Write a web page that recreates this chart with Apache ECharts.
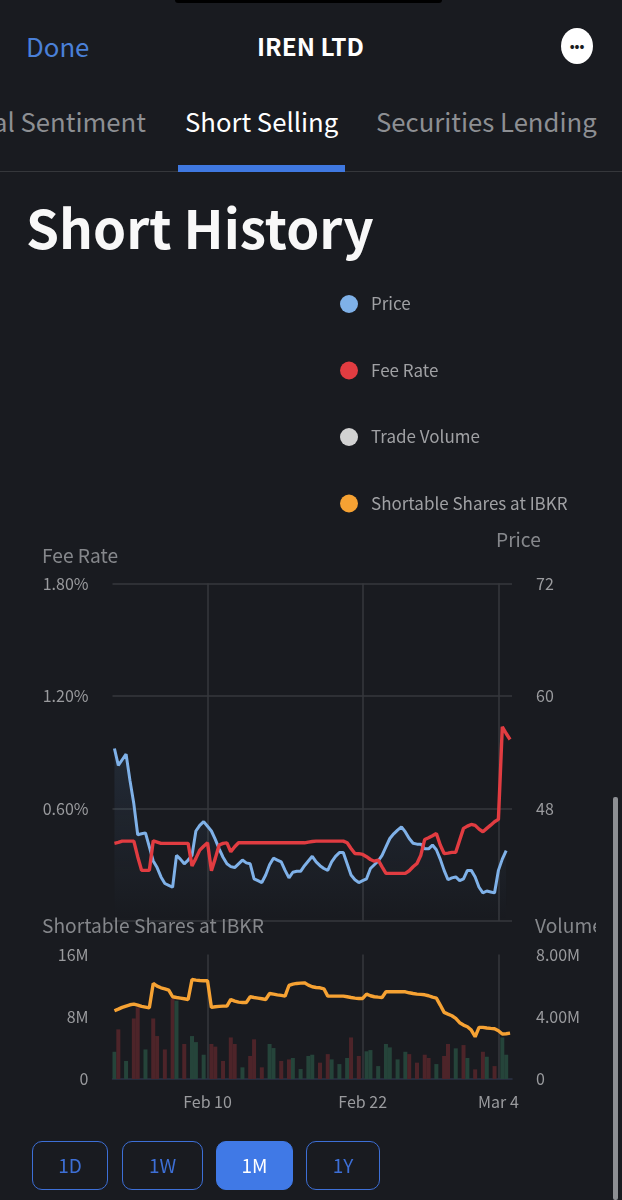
<!DOCTYPE html>
<html>
<head>
<meta charset="utf-8">
<script src="https://cdn.jsdelivr.net/npm/echarts@6/dist/echarts.min.js"></script>
<style>
  html, body { margin: 0; padding: 0; background: #191b20; }
  body { width: 622px; height: 1200px; position: relative; overflow: hidden; font-family: "Noto Sans CJK JP", "Noto Sans", sans-serif; }
  .txt { position: absolute; white-space: nowrap; line-height: 1; }
  #chart { position: absolute; left: 0; top: 0; width: 596px; height: 1200px; }
  .btn { position: absolute; top: 1141px; height: 49px; box-sizing: border-box; border: 1.7px solid #3d6fd6; border-radius: 10px; color: #3d6fd6; font-size: 19px; line-height: 45px; text-align: center; }
  .btn.on { background: #4079e6; border-color: #4079e6; color: #fff; }
</style>
</head>
<body>
<div class="txt" style="left:175px;top:0;width:267px;height:3px;background:#000;border-radius:0 0 6px 6px"></div>
<div class="txt" style="left:26px;top:33px;font-size:25.8px;color:#4a80d8">Done</div>
<div class="txt" style="left:257px;top:34px;font-size:24.4px;font-weight:700;color:#fff">IREN LTD</div>
<div class="txt" style="left:561px;top:28px;width:32px;height:36px;border-radius:50%;background:#fff;color:#191b20;font-size:13px;font-weight:700;line-height:36px;text-align:center">•••</div>
<div class="txt" style="left:-7px;top:108px;font-size:25.7px;color:#8d8f93">al Sentiment</div>
<div class="txt" style="left:185px;top:108px;font-size:25.7px;color:#fff">Short Selling</div>
<div class="txt" style="left:376px;top:108px;font-size:25.7px;color:#8d8f93">Securities Lending</div>
<div class="txt" style="left:0;top:171px;width:622px;height:1px;background:#35373b"></div>
<div class="txt" style="left:178px;top:165px;width:167px;height:7px;background:#3f78e0"></div>
<div class="txt" style="left:26px;top:200px;font-size:53px;font-weight:700;color:#f8f8f8">Short History</div>

<div id="chart"></div>

<div class="txt" style="left:613px;top:797px;width:4.5px;height:403px;border-radius:2px;background:#8d8f93"></div>
<div class="btn" style="left:32px;width:76px">1D</div>
<div class="btn" style="left:122px;width:81px">1W</div>
<div class="btn on" style="left:216px;width:77px">1M</div>
<div class="btn" style="left:306px;width:74px">1Y</div>

<script>
// values, one per trading slot
var price = [54.4,52.6,53.2,53.8,51.0,48.5,45.2,45.3,45.4,43.9,42.4,41.7,40.7,40.0,39.8,39.6,43.0,42.6,42.1,42.5,
  43.0,45.6,46.2,46.6,46.1,45.6,44.7,43.7,42.8,42.1,41.8,41.7,42.1,42.5,42.2,42.1,40.5,40.3,40.1,40.9,
  42.0,42.7,42.5,42.3,41.4,40.6,41.2,41.3,41.3,41.9,42.4,42.9,42.3,41.9,41.6,41.4,42.3,42.9,43.3,43.3,
  42.1,40.9,40.4,40.1,40.3,40.5,41.6,42.0,42.4,43.0,43.9,44.8,45.3,45.7,46.05,45.5,44.8,44.3,44.2,44.2,
  43.7,43.7,44.1,43.6,42.6,41.4,40.4,40.6,40.7,40.3,40.5,41.4,41.4,40.7,39.6,39.0,39.2,39.1,39.0,41.4,
  42.6,43.5,null];

var feeRate = [.414,.419,.426,.426,.426,.426,.343,.27,.27,.27,.428,.421,.414,.414,.414,.414,.414,.414,.414,.414,
  .293,.334,.378,.399,.417,.268,.334,.405,.414,.417,.369,.396,.417,.417,.417,.417,.417,.417,.417,.417,
  .417,.417,.417,.417,.417,.417,.417,.417,.417,.417,.421,.424,.426,.426,.426,.426,.426,.426,.426,.426,
  .417,.387,.36,.359,.355,.343,.328,.319,.325,.289,.254,.254,.254,.254,.254,.254,.268,.289,.307,.351,
  .435,.444,.455,.467,.405,.36,.362,.366,.367,.431,.494,.506,.515,.51,.49,.476,.494,.511,.529,.542,
  1.036,1.0,.968];

// millions
var shortable = [8.77,8.98,9.20,9.37,9.54,9.63,9.50,9.33,9.24,9.15,12.28,11.94,11.72,11.59,11.42,10.57,10.48,10.40,10.31,10.22,
  12.79,12.71,12.66,12.62,12.62,9.20,9.28,9.33,9.37,9.37,10.22,10.01,9.88,9.84,9.84,10.57,10.48,10.40,10.31,10.22,
  10.99,10.91,10.82,10.74,10.65,12.02,12.19,12.28,12.32,12.36,12.06,11.85,11.76,11.72,11.59,10.65,10.65,10.65,10.65,10.65,
  10.57,10.48,10.40,10.35,10.35,10.91,10.70,10.57,10.52,10.48,11.21,11.21,11.21,11.21,11.21,11.21,11.08,10.99,10.91,10.87,
  10.82,10.70,10.52,10.40,9.50,8.56,8.34,8.13,7.79,7.23,6.93,6.72,6.29,5.43,6.63,6.63,6.55,6.50,6.46,6.20,
  5.78,5.82,5.90];

// millions, null where no bar is drawn
var volume = [1.75,3.19,null,1.16,null,3.89,4.6,null,1.9,null,3.89,2.76,null,1.9,null,5.18,5.03,null,2.25,null,
  2.76,2.37,null,1.56,null,2.25,2.08,null,1.16,null,2.67,2.25,null,.75,null,1.48,2.55,null,.75,null,
  2.25,1.99,null,1.16,null,1.26,1.35,null,.64,null,1.48,1.56,null,1.05,null,1.6,1.26,null,.96,null,
  1.35,2.67,null,1.48,null,1.78,1.86,null,.83,null,2.25,2.03,null,1.26,null,1.75,1.6,null,1.05,null,
  1.56,1.35,null,.96,null,1.48,2.25,null,1.97,null,2.18,1.35,null,.62,null,1.75,1.43,null,.83,null,
  2.67,1.56,null];

// which slots have a red bar, the others are green
var redBars = [1,5,6,10,11,13,15,18,25,26,28,30,31,35,36,38,43,45,53,55,61,63,76,78,80,81,85,86,90,93,95,98];

var tickIndex = [24, 64, 99];
var tickText = ['Feb 10', 'Feb 22', 'Mar 4'];

var categories = price.map(function (v, i) { return 'slot' + i; });

var fontName = '"Noto Sans CJK JP", "Noto Sans", sans-serif';
var labelColor = '#9a9b9e';
var gridColor = '#36383c';

var isTick = function (i) { return tickIndex.indexOf(i) >= 0; };

function xAxisFor(gridIndex, showLabel) {
    return {
        type: 'category',
        gridIndex: gridIndex,
        data: categories,
        boundaryGap: true,
        axisLine: { show: showLabel, lineStyle: { color: '#2b3345', width: 1.5 } },
        axisTick: { show: false },
        axisLabel: {
            show: showLabel,
            interval: function (i) { return isTick(i); },
            formatter: function (v, i) { return tickText[tickIndex.indexOf(i)]; },
            color: labelColor,
            fontSize: 16,
            fontFamily: fontName,
            margin: 15
        },
        splitLine: {
            show: true,
            alignWithLabel: true,
            interval: function (i) { return isTick(i); },
            lineStyle: { color: gridColor, width: 1.5 }
        }
    };
}

function yAxisFor(gridIndex, position, min, max, interval, showSplit, fmt) {
    return {
        type: 'value',
        gridIndex: gridIndex,
        position: position,
        min: min,
        max: max,
        interval: interval,
        axisLine: { show: false },
        axisTick: { show: false },
        axisLabel: {
            color: labelColor,
            fontSize: 16,
            fontFamily: fontName,
            margin: 24,
            formatter: fmt
        },
        splitLine: { show: showSplit, lineStyle: { color: gridColor, width: 1.5 } }
    };
}

function axisTitle(text, left, top) {
    return { text: text, left: left, top: top, textStyle: { color: '#85878b', fontSize: 19.2, fontWeight: 'normal', fontFamily: fontName, lineHeight: 20 }, padding: 0 };
}

var myChart = echarts.init(document.getElementById('chart'));

myChart.setOption({
    animation: false,
    backgroundColor: 'transparent',
    title: [
        axisTitle('Fee Rate', 42, 546),
        axisTitle('Price', 496, 530),
        axisTitle('Shortable Shares at IBKR', 42, 916),
        axisTitle('Volume', 535, 916)
    ],
    legend: {
        orient: 'vertical',
        left: 335,
        top: 290,
        icon: 'circle',
        itemWidth: 18,
        itemHeight: 18,
        itemGap: 48.5,
        selectedMode: false,
        textStyle: { color: '#a0a1a4', fontSize: 17, fontFamily: fontName, padding: [0, 0, 0, 8] },
        data: ['Price', 'Fee Rate', 'Trade Volume', 'Shortable Shares at IBKR']
    },
    grid: [
        { left: 112.5, top: 583.5, width: 399.5, height: 337.5 },
        { left: 112.5, top: 954.5, width: 399.5, height: 124.5 }
    ],
    xAxis: [xAxisFor(0, false), xAxisFor(1, true)],
    yAxis: [
        yAxisFor(0, 'left', 0, 1.8, 0.6, true, function (v) { return v === 0 ? '' : v.toFixed(2) + '%'; }),
        yAxisFor(0, 'right', 36, 72, 12, false, function (v) { return v === 36 ? '' : String(v); }),
        yAxisFor(1, 'left', 0, 16, 8, false, function (v) { return v === 0 ? '0' : v + 'M'; }),
        yAxisFor(1, 'right', 0, 8, 4, false, function (v) { return v === 0 ? '0' : v.toFixed(2) + 'M'; })
    ],
    series: [
        {
            name: 'Price',
            type: 'line',
            xAxisIndex: 0,
            yAxisIndex: 1,
            data: price,
            showSymbol: false,
            lineStyle: { color: '#7fb1e8', width: 3 },
            itemStyle: { color: '#7fb1e8' },
            areaStyle: {
                origin: 'start',
                color: new echarts.graphic.LinearGradient(0, 0, 0, 1, [
                    { offset: 0, color: 'rgba(110,160,220,0.17)' },
                    { offset: 1, color: 'rgba(110,160,220,0)' }
                ])
            }
        },
        {
            name: 'Fee Rate',
            type: 'line',
            xAxisIndex: 0,
            yAxisIndex: 0,
            data: feeRate,
            showSymbol: false,
            lineStyle: { color: '#e13c41', width: 3.4 },
            itemStyle: { color: '#e13c41' }
        },
        {
            name: 'Trade Volume',
            type: 'bar',
            xAxisIndex: 1,
            yAxisIndex: 3,
            barWidth: 4,
            itemStyle: { color: '#d2d2d2' },
            data: volume.map(function (v, i) {
                return { value: v, itemStyle: { color: redBars.indexOf(i) >= 0 ? '#4d2429' : '#25443a' } };
            })
        },
        {
            name: 'Shortable Shares at IBKR',
            type: 'line',
            xAxisIndex: 1,
            yAxisIndex: 2,
            data: shortable,
            showSymbol: false,
            lineStyle: { color: '#f6a233', width: 3.4 },
            itemStyle: { color: '#f6a233' }
        }
    ]
});
</script>
</body>
</html>
